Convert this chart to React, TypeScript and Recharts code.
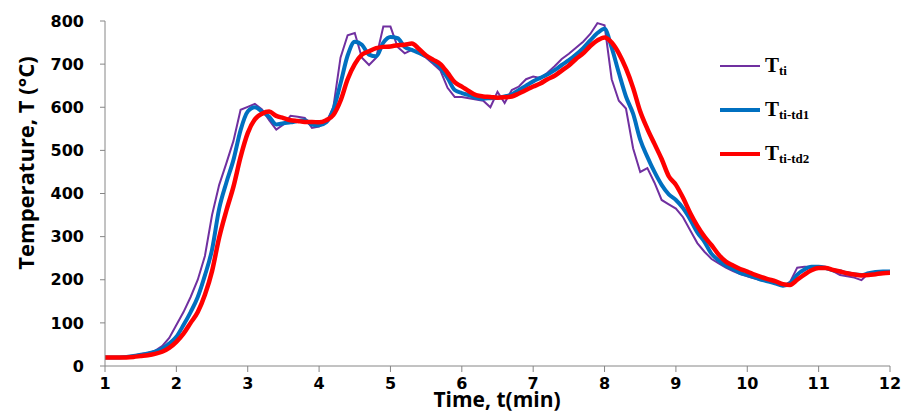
import { LineChart, Line, XAxis, YAxis, Legend } from 'recharts'

const time = [
  1.0, 1.1, 1.2, 1.3, 1.4, 1.5, 1.6, 1.7, 1.8, 1.9,
  2.0, 2.1, 2.2, 2.3, 2.4, 2.5, 2.6, 2.7, 2.8, 2.9,
  3.0, 3.1, 3.2, 3.3, 3.4, 3.5, 3.6, 3.7, 3.8, 3.9,
  4.0, 4.1, 4.2, 4.3, 4.4, 4.5, 4.6, 4.7, 4.8, 4.9,
  5.0, 5.1, 5.2, 5.3, 5.4, 5.5, 5.6, 5.7, 5.8, 5.9,
  6.0, 6.1, 6.2, 6.3, 6.4, 6.5, 6.6, 6.7, 6.8, 6.9,
  7.0, 7.1, 7.2, 7.3, 7.4, 7.5, 7.6, 7.7, 7.8, 7.9,
  8.0, 8.1, 8.2, 8.3, 8.4, 8.5, 8.6, 8.7, 8.8, 8.9,
  9.0, 9.1, 9.2, 9.3, 9.4, 9.5, 9.6, 9.7, 9.8, 9.9,
  10.0, 10.1, 10.2, 10.3, 10.4, 10.5, 10.6, 10.7, 10.8, 10.9,
  11.0, 11.1, 11.2, 11.3, 11.4, 11.5, 11.6, 11.7, 11.8, 11.9,
  12.0,
]

// measured temperature T_ti (noisy)
const tTi = [
  20, 20, 20, 21, 24, 28, 30, 35, 46, 65,
  95, 125, 160, 200, 255, 350, 420, 470, 522, 594,
  601, 608, 595, 570, 548, 560, 580, 578, 575, 552,
  555, 565, 600, 715, 767, 772, 715, 698, 715, 787,
  787, 740, 725, 733, 725, 715, 700, 685, 645, 624,
  624, 621, 618, 615, 600, 636, 610, 640, 648, 665,
  671, 668, 680, 695, 712, 724, 738, 752, 770, 795,
  790, 665, 615, 597, 505, 450, 459, 425, 385, 375,
  365, 345, 315, 285, 265, 248, 238, 228, 220, 213,
  208, 203, 199, 195, 190, 185, 195, 228, 230, 230,
  231, 230, 220, 211, 208, 205, 199, 215, 219, 219,
  219,
]

// T_ti-td1
const tTd1 = [
  20, 20, 20, 21, 23, 26, 29, 33, 40, 52,
  68, 95, 125, 160, 210, 270, 365, 425, 478, 547,
  590, 600, 590, 578, 560, 563, 565, 568, 570, 560,
  558, 565, 595, 655, 720, 752, 745, 722, 718, 750,
  763, 760, 740, 733, 726, 718, 706, 692, 668, 640,
  633, 628, 622, 620, 621, 622, 625, 630, 640, 650,
  660, 668, 676, 686, 698, 709, 722, 737, 755, 772,
  782, 738, 680, 625, 585, 525, 485, 450, 420, 398,
  385, 366, 340, 310, 288, 260, 245, 233, 225, 216,
  211, 206, 200, 196, 191, 186, 192, 212, 224, 230,
  230, 227, 222, 219, 215, 212, 211, 215, 218, 219,
  219,
]

// T_ti-td2
const tTd2 = [
  20, 20, 20, 20, 21, 23, 25, 28, 33, 42,
  56, 75, 100, 125, 165, 220, 298, 360, 416, 485,
  540, 572, 585, 590, 580, 575, 570, 568, 566, 566,
  565, 570, 582, 615, 665, 700, 722, 730, 737, 740,
  741, 744, 745, 748, 735, 720, 710, 700, 680, 658,
  648, 637, 628, 625, 624, 622, 623, 625, 632, 640,
  648, 655, 665, 673, 685, 697, 712, 725, 742, 755,
  762, 750, 725, 690, 645, 590, 550, 515, 480, 440,
  420, 390, 355, 325, 300, 280, 258, 242, 233, 225,
  219, 212, 206, 201, 196, 190, 188, 200, 212, 222,
  227, 227, 223, 219, 215, 212, 210, 211, 213, 215,
  216,
]

const xTicks = [1, 2, 3, 4, 5, 6, 7, 8, 9, 10, 11, 12]
const yTicks = [0, 100, 200, 300, 400, 500, 600, 700, 800]

const COLORS = {
  ti: '#7030a0',
  td1: '#0070c0',
  td2: '#ff0000',
}

const legendItems = [
  { key: 'ti', sub: 'ti', color: COLORS.ti, width: 2 },
  { key: 'td1', sub: 'ti-td1', color: COLORS.td1, width: 4 },
  { key: 'td2', sub: 'ti-td2', color: COLORS.td2, width: 4 },
]

const data = time.map((t, i) => ({ t, ti: tTi[i], td1: tTd1[i], td2: tTd2[i] }))

const AXIS = '#868686'
const tickStyle = { fill: '#000', fontSize: 16, fontWeight: 700, fontFamily: '"DejaVu Sans"' }

function LegendBox() {
  return (
    <div>
      {legendItems.map((it) => (
        <div key={it.key} style={{ display: 'flex', alignItems: 'center', height: 44 }}>
          <svg width={42} height={8} style={{ marginRight: 4 }}>
            <line x1={1} y1={4} x2={41} y2={4} stroke={it.color} strokeWidth={it.width} />
          </svg>
          <span style={{ fontFamily: '"Liberation Serif", serif', fontWeight: 700, fontSize: 21, color: '#000' }}>
            T<sub style={{ fontSize: 13, verticalAlign: '-0.2em' }}>{it.sub}</sub>
          </span>
        </div>
      ))}
    </div>
  )
}

export default function App() {
  return (
    <div style={{ position: 'relative', width: 902, height: 412, fontFamily: '"Open Sans"' }}>
      <style>{'body { margin: 0; }'}</style>
      <LineChart width={902} height={412} data={data} margin={{ top: 21, right: 12, bottom: 16, left: 45 }}>
        <XAxis
          dataKey="t"
          type="number"
          domain={[1, 12]}
          ticks={xTicks}
          height={30}
          stroke={AXIS}
          tickSize={6}
          tickMargin={6}
          tick={tickStyle}
          allowDataOverflow
        />
        <YAxis
          type="number"
          domain={[0, 800]}
          ticks={yTicks}
          width={60}
          stroke={AXIS}
          tickSize={5}
          tickMargin={16}
          tick={tickStyle}
          allowDataOverflow
        />
        <Legend
          layout="vertical"
          align="center"
          verticalAlign="middle"
          content={() => <LegendBox />}
          wrapperStyle={{ left: 719, top: 44, width: 120 }}
        />
        <Line type="linear" dataKey="ti" stroke={COLORS.ti} strokeWidth={2} dot={false} isAnimationActive={false} />
        <Line type="monotone" dataKey="td1" stroke={COLORS.td1} strokeWidth={4} dot={false} isAnimationActive={false} />
        <Line type="monotone" dataKey="td2" stroke={COLORS.td2} strokeWidth={4.5} dot={false} isAnimationActive={false} />
      </LineChart>
      <div
        style={{
          position: 'absolute',
          left: 25,
          top: 163,
          transform: 'translate(-50%, -50%) rotate(-90deg)',
          whiteSpace: 'nowrap',
          fontSize: 22,
          fontWeight: 700,
        }}
      >
        Temperature, T (°C)
      </div>
      <div
        style={{
          position: 'absolute',
          left: 497,
          top: 399,
          transform: 'translate(-50%, -50%)',
          whiteSpace: 'nowrap',
          fontSize: 21,
          lineHeight: '24px',
          fontWeight: 700,
        }}
      >
        Time, t(min)
      </div>
    </div>
  )
}
